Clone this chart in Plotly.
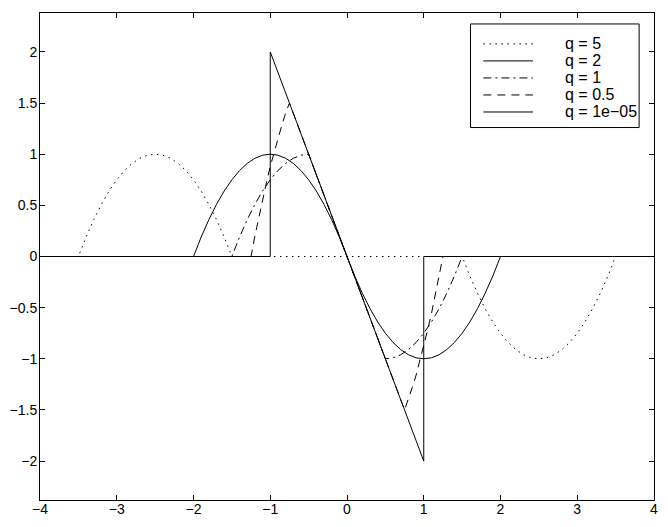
import plotly.graph_objects as go

# values
x_q5 = [-4.0, -3.5, -3.4, -3.3, -3.2, -3.1, -3.0, -2.9, -2.8, -2.7, -2.6, -2.5,
        -2.4, -2.3, -2.2, -2.1, -2.0, -1.9, -1.8, -1.7, -1.6, -1.5,
        1.5, 1.6, 1.7, 1.8, 1.9, 2.0, 2.1, 2.2, 2.3, 2.4, 2.5,
        2.6, 2.7, 2.8, 2.9, 3.0, 3.1, 3.2, 3.3, 3.4, 3.5, 4.0]
y_q5 = [0, 0, 0.19, 0.36, 0.51, 0.64, 0.75, 0.84, 0.91, 0.96, 0.99, 1.0,
        0.99, 0.96, 0.91, 0.84, 0.75, 0.64, 0.51, 0.36, 0.19, 0,
        0, -0.19, -0.36, -0.51, -0.64, -0.75, -0.84, -0.91, -0.96, -0.99, -1.0,
        -0.99, -0.96, -0.91, -0.84, -0.75, -0.64, -0.51, -0.36, -0.19, 0, 0]

x_q2 = [-4.0, -2.0, -1.9, -1.8, -1.7, -1.6, -1.5, -1.4, -1.3, -1.2, -1.1, -1.0,
        -0.9, -0.8, -0.7, -0.6, -0.5, -0.4, -0.3, -0.2, -0.1, 0.0,
        0.1, 0.2, 0.3, 0.4, 0.5, 0.6, 0.7, 0.8, 0.9, 1.0,
        1.1, 1.2, 1.3, 1.4, 1.5, 1.6, 1.7, 1.8, 1.9, 2.0, 4.0]
y_q2 = [0, 0, 0.19, 0.36, 0.51, 0.64, 0.75, 0.84, 0.91, 0.96, 0.99, 1.0,
        0.99, 0.96, 0.91, 0.84, 0.75, 0.64, 0.51, 0.36, 0.19, 0,
        -0.19, -0.36, -0.51, -0.64, -0.75, -0.84, -0.91, -0.96, -0.99, -1.0,
        -0.99, -0.96, -0.91, -0.84, -0.75, -0.64, -0.51, -0.36, -0.19, 0, 0]

x_q1 = [-4.0, -1.5, -1.4, -1.3, -1.2, -1.1, -1.0, -0.9, -0.8, -0.7, -0.6, -0.5,
        0.5, 0.6, 0.7, 0.8, 0.9, 1.0, 1.1, 1.2, 1.3, 1.4, 1.5, 4.0]
y_q1 = [0, 0, 0.19, 0.36, 0.51, 0.64, 0.75, 0.84, 0.91, 0.96, 0.99, 1.0,
        -1.0, -0.99, -0.96, -0.91, -0.84, -0.75, -0.64, -0.51, -0.36, -0.19, 0, 0]

x_q05 = [-4.0, -1.25, -1.2, -1.15, -1.1, -1.05, -1.0, -0.95, -0.9, -0.85, -0.8, -0.75,
         0.75, 0.8, 0.85, 0.9, 0.95, 1.0, 1.05, 1.1, 1.15, 1.2, 1.25, 4.0]
y_q05 = [0, 0, 0.2, 0.38, 0.56, 0.72, 0.88, 1.02, 1.16, 1.28, 1.4, 1.5,
         -1.5, -1.4, -1.28, -1.16, -1.02, -0.88, -0.72, -0.56, -0.38, -0.2, 0, 0]

x_q0 = [-4.0, -1.0, -1.0, 1.0, 1.0, 4.0]
y_q0 = [0, 0, 2.0, -2.0, 0, 0]

series_names = ["q = 5", "q = 2", "q = 1", "q = 0.5", "q = 1e\u221205"]

x_ticks = [-4, -3, -2, -1, 0, 1, 2, 3, 4]
x_ticktext = ["\u22124", "\u22123", "\u22122", "\u22121", "0", "1", "2", "3", "4"]
y_ticks = [-2, -1.5, -1, -0.5, 0, 0.5, 1, 1.5, 2]
y_ticktext = ["\u22122", "\u22121.5", "\u22121", "\u22120.5", "0", "0.5", "1", "1.5", "2"]

dashes = ["1.5px,4.5px", "solid", "8px,4px,2px,4px", "8px,6px", "solid"]
series = [(x_q5, y_q5), (x_q2, y_q2), (x_q1, y_q1), (x_q05, y_q05), (x_q0, y_q0)]

# plot area in pixels
LEFT, RIGHT, TOP, BOTTOM = 39, 658, 13, 502
W, H = 668, 527


def px_x(px):
    return (px - LEFT) / (RIGHT - LEFT)


def px_y(py):
    return (BOTTOM - py) / (BOTTOM - TOP)


fig = go.Figure()
for (xs, ys), name, dash in zip(series, series_names, dashes):
    fig.add_trace(
        go.Scatter(
            x=xs,
            y=ys,
            mode="lines",
            name=name,
            line=dict(color="black", width=1, dash=dash),
            hoverinfo="skip",
        )
    )

# MATLAB-style boxed legend
shapes = [
    dict(type="rect", xref="paper", yref="paper",
         x0=px_x(473), x1=px_x(643), y0=px_y(128), y1=px_y(24),
         line=dict(color="black", width=1), fillcolor="white", layer="above")
]
annotations = []
for i, (name, dash) in enumerate(zip(series_names, dashes)):
    row_y = px_y(44 + i * 17.1)
    shapes.append(
        dict(type="line", xref="paper", yref="paper",
             x0=px_x(486), x1=px_x(536), y0=row_y, y1=row_y,
             line=dict(color="black", width=1, dash=dash), layer="above")
    )
    annotations.append(
        dict(xref="paper", yref="paper", x=px_x(566), y=row_y,
             text=name, showarrow=False, xanchor="left", yanchor="middle",
             font=dict(size=16, color="black"))
    )

axis_style = dict(
    showline=True,
    linecolor="black",
    linewidth=1,
    mirror="ticks",
    ticks="inside",
    ticklen=5,
    tickcolor="black",
    showgrid=False,
    zeroline=False,
    tickfont=dict(size=14, color="black"),
)

fig.update_layout(
    width=W,
    height=H,
    margin=dict(l=LEFT, r=W - RIGHT, t=TOP, b=H - BOTTOM, pad=0),
    plot_bgcolor="white",
    paper_bgcolor="white",
    font=dict(family="Liberation Sans, Arial, Helvetica, sans-serif", color="black"),
    showlegend=False,
    shapes=shapes,
    annotations=annotations,
)
fig.update_xaxes(range=[-4, 4], tickvals=x_ticks, ticktext=x_ticktext,
                 ticklabelstandoff=-4, **axis_style)
fig.update_yaxes(range=[-2.38, 2.38], tickvals=y_ticks, ticktext=y_ticktext,
                 ticklabelstandoff=-1, **axis_style)

fig.write_html(
    "out.html",
    config={"displayModeBar": False},
    post_script="document.body.style.margin='0';",
)
